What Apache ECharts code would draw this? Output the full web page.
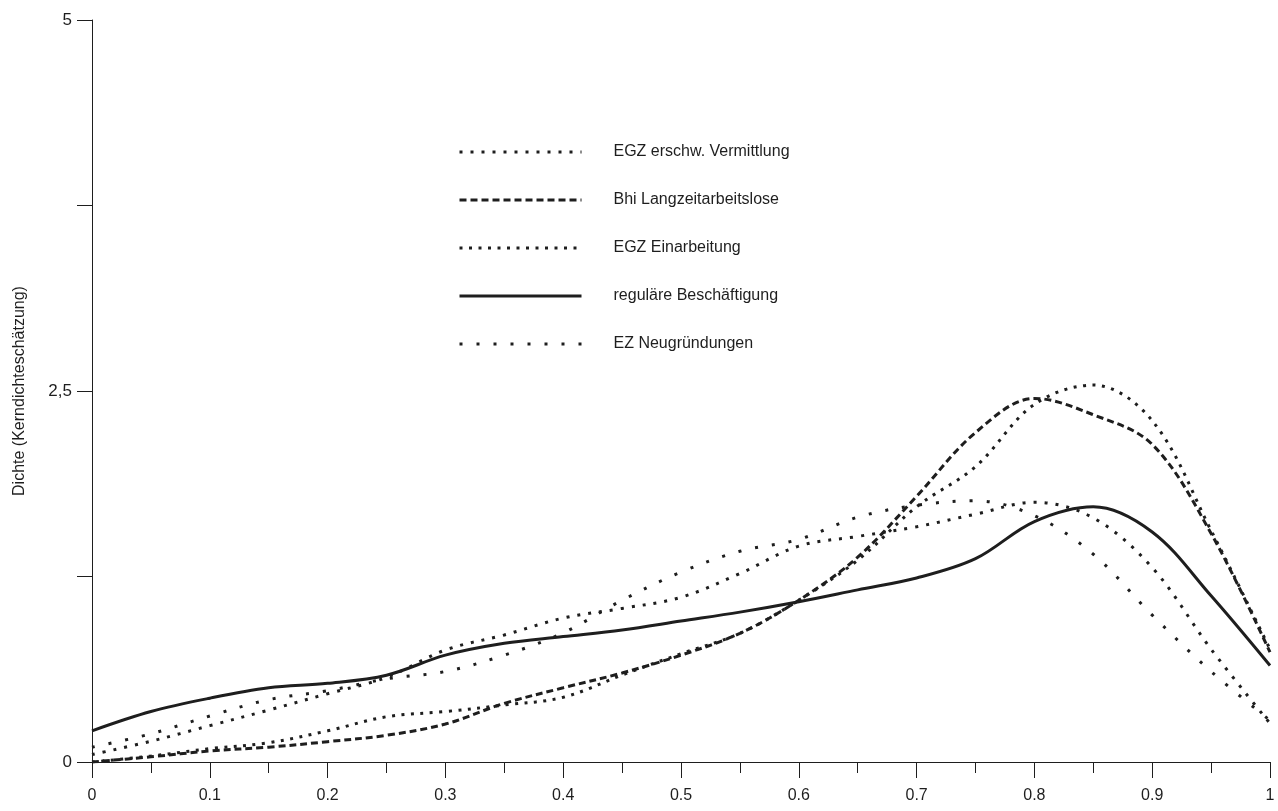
<!DOCTYPE html>
<html>
<head>
<meta charset="utf-8">
<script src="https://cdn.jsdelivr.net/npm/echarts@6/dist/echarts.min.js"></script>
<style>
  html, body { margin: 0; padding: 0; background: #fff; }
  #chart { width: 1278px; height: 811px; }
</style>
</head>
<body>
<div id="chart"></div>
<script>
// x-Stützstellen (Anteil) und Dichtewerte
var xs = [0, 0.05, 0.1, 0.15, 0.2, 0.25, 0.3, 0.35, 0.4, 0.45, 0.5,
          0.55, 0.6, 0.65, 0.7, 0.75, 0.8, 0.85, 0.9, 0.95, 1];

var egzVermittlung = [0.05, 0.14, 0.245, 0.35, 0.46, 0.57, 0.755, 0.856, 0.97, 1.035, 1.11,
                      1.27, 1.455, 1.52, 1.585, 1.67, 1.75, 1.645, 1.31, 0.76, 0.26];
var bhiLangzeit = [0.0, 0.035, 0.074, 0.10, 0.137, 0.18, 0.256, 0.395, 0.50, 0.60, 0.72,
                   0.867, 1.09, 1.38, 1.79, 2.22, 2.45, 2.34, 2.14, 1.54, 0.74];
var egzEinarbeitung = [0.0, 0.04, 0.09, 0.13, 0.21, 0.305, 0.34, 0.384, 0.436, 0.586, 0.73,
                       0.867, 1.09, 1.36, 1.72, 1.99, 2.41, 2.54, 2.30, 1.56, 0.76];
var regulaer = [0.21, 0.34, 0.43, 0.50, 0.53, 0.585, 0.72, 0.80, 0.845, 0.89, 0.95,
                1.01, 1.08, 1.16, 1.24, 1.37, 1.62, 1.72, 1.55, 1.12, 0.65];
var ezNeugruendung = [0.10, 0.19, 0.31, 0.42, 0.48, 0.56, 0.61, 0.72, 0.87, 1.09, 1.28,
                      1.42, 1.50, 1.65, 1.73, 1.76, 1.66, 1.40, 0.99, 0.61, 0.28];

var namen = ['EGZ erschw. Vermittlung', 'Bhi Langzeitarbeitslose', 'EGZ Einarbeitung',
             'reguläre Beschäftigung', 'EZ Neugründungen'];

function paare(ys) {
  return xs.map(function (x, i) { return [x, ys[i]]; });
}

var ink = '#1e1e1e';
var font = 'Liberation Sans, Arial, sans-serif';

function linie(name, ys, type, width) {
  return {
    name: name,
    type: 'line',
    data: paare(ys),
    smooth: 0.35,
    symbol: 'none',
    showSymbol: false,
    lineStyle: { color: ink, width: width, type: type, cap: 'butt' },
    itemStyle: { color: ink }
  };
}

var chart = echarts.init(document.getElementById('chart'));
chart.setOption({
  animation: false,
  backgroundColor: '#fff',
  textStyle: { fontFamily: font },
  grid: { left: 92, right: 8, top: 20, bottom: 49, containLabel: false },
  legend: {
    orient: 'vertical',
    left: 453,
    top: 130,
    itemWidth: 122,
    itemHeight: 14,
    itemGap: 14,
    data: namen,
    itemStyle: { color: 'rgba(0,0,0,0)', borderWidth: 0, opacity: 0 },
    lineStyle: { width: 3 },
    textStyle: {
      fontFamily: font,
      fontSize: 16,
      color: ink,
      lineHeight: 18,
      padding: [0, 0, 16, 27]
    }
  },
  xAxis: {
    type: 'value',
    min: 0,
    max: 1,
    interval: 0.1,
    splitLine: { show: false },
    axisLine: { show: true, onZero: false, lineStyle: { color: ink, width: 1 } },
    axisTick: { show: true, length: 16, lineStyle: { color: ink, width: 1 } },
    minorTick: { show: true, splitNumber: 2, length: 11, lineStyle: { color: ink, width: 1 } },
    axisLabel: {
      margin: 26,
      fontSize: 16,
      color: ink,
      fontFamily: font,
      formatter: function (v) {
        if (v === 0) return '0';
        if (Math.abs(v - 1) < 1e-9) return '1';
        return v.toFixed(1);
      }
    }
  },
  yAxis: {
    type: 'value',
    min: 0,
    max: 5,
    interval: 1.25,
    name: 'Dichte (Kerndichteschätzung)',
    nameLocation: 'middle',
    nameGap: 64,
    nameTextStyle: { fontSize: 16, color: ink, fontFamily: font },
    splitLine: { show: false },
    axisLine: { show: true, lineStyle: { color: ink, width: 1 } },
    axisTick: { show: true, length: 15, lineStyle: { color: ink, width: 1 } },
    axisLabel: {
      margin: 20,
      fontSize: 17,
      color: ink,
      fontFamily: font,
      formatter: function (v) {
        if (Math.abs(v % 2.5) > 1e-9) return '';
        return String(v).replace('.', ',');
      }
    }
  },
  series: [
    linie(namen[0], egzVermittlung, [3, 8], 3),
    linie(namen[1], bhiLangzeit, [7, 4], 3),
    linie(namen[2], egzEinarbeitung, [3, 6.5], 3),
    linie(namen[3], regulaer, 'solid', 3),
    linie(namen[4], ezNeugruendung, [3, 14], 3)
  ]
});
</script>
</body>
</html>
